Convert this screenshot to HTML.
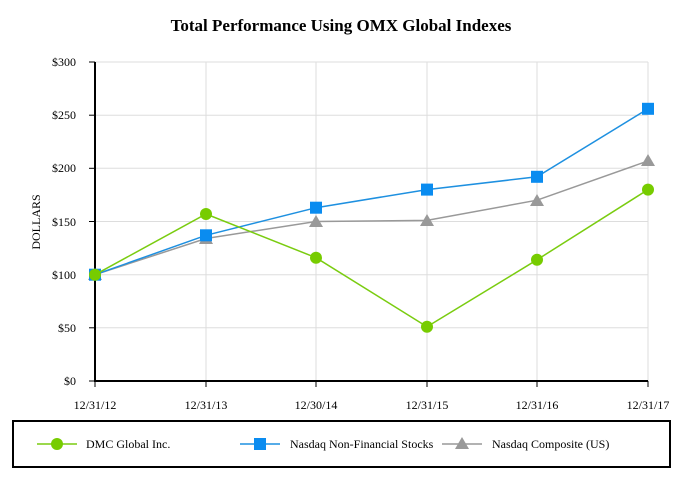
<!DOCTYPE html>
<html><head><meta charset="utf-8"><style>body{margin:0;background:#fff}svg{display:block}text{font-family:"Liberation Serif",serif;fill:#000}</style></head><body>
<svg width="682" height="480" viewBox="0 0 682 480">
<text x="341" y="31" font-size="17" font-weight="bold" text-anchor="middle">Total Performance Using OMX Global Indexes</text>
<g stroke="#ddd" stroke-width="1">
<line x1="95" y1="62" x2="648" y2="62"/><line x1="95" y1="115.2" x2="648" y2="115.2"/><line x1="95" y1="168.3" x2="648" y2="168.3"/><line x1="95" y1="221.5" x2="648" y2="221.5"/><line x1="95" y1="274.7" x2="648" y2="274.7"/><line x1="95" y1="327.8" x2="648" y2="327.8"/>
<line x1="206" y1="62" x2="206" y2="381"/><line x1="316" y1="62" x2="316" y2="381"/><line x1="427" y1="62" x2="427" y2="381"/><line x1="537" y1="62" x2="537" y2="381"/><line x1="648" y1="62" x2="648" y2="381"/>
</g>
<g stroke="#000" stroke-width="2"><line x1="95" y1="62" x2="95" y2="382"/><line x1="94" y1="381" x2="648" y2="381"/></g>
<g stroke="#000" stroke-width="1"><line x1="89" y1="62" x2="95" y2="62"/><line x1="89" y1="115.2" x2="95" y2="115.2"/><line x1="89" y1="168.3" x2="95" y2="168.3"/><line x1="89" y1="221.5" x2="95" y2="221.5"/><line x1="89" y1="274.7" x2="95" y2="274.7"/><line x1="89" y1="327.8" x2="95" y2="327.8"/><line x1="89" y1="381" x2="95" y2="381"/>
<line x1="95" y1="381" x2="95" y2="387"/><line x1="206" y1="381" x2="206" y2="387"/><line x1="316" y1="381" x2="316" y2="387"/><line x1="427" y1="381" x2="427" y2="387"/><line x1="537" y1="381" x2="537" y2="387"/><line x1="648" y1="381" x2="648" y2="387"/></g>
<g font-size="12" text-anchor="end"><text x="76" y="66">$300</text><text x="76" y="119">$250</text><text x="76" y="172">$200</text><text x="76" y="226">$150</text><text x="76" y="279">$100</text><text x="76" y="332">$50</text><text x="76" y="385">$0</text></g>
<g font-size="12" text-anchor="middle"><text x="95" y="409">12/31/12</text><text x="206" y="409">12/31/13</text><text x="316" y="409">12/30/14</text><text x="427" y="409">12/31/15</text><text x="537" y="409">12/31/16</text><text x="648" y="409">12/31/17</text></g>
<text transform="translate(40,222) rotate(-90)" font-size="12" text-anchor="middle">DOLLARS</text>
<polyline fill="none" stroke="#999" stroke-width="1.5" points="95,274.7 206,238.5 316,221.5 427,220.4 537,200.2 648,160.9"/>
<g fill="#999"><path d="M95,268 l7,12 h-14z"/><path d="M206,232 l7,12 h-14z"/><path d="M316,215 l7,12 h-14z"/><path d="M427,214 l7,12 h-14z"/><path d="M537,194 l7,12 h-14z"/><path d="M648,154 l7,12 h-14z"/></g>
<polyline fill="none" stroke="#1e90e0" stroke-width="1.5" points="95,274.7 206,235.3 316,207.7 427,189.6 537,176.8 648,108.8"/>
<g fill="#0a8cf0"><rect x="89" y="268.7" width="12" height="12"/><rect x="200" y="229.3" width="12" height="12"/><rect x="310" y="201.7" width="12" height="12"/><rect x="421" y="183.6" width="12" height="12"/><rect x="531" y="170.8" width="12" height="12"/><rect x="642" y="102.8" width="12" height="12"/></g>
<polyline fill="none" stroke="#7acc10" stroke-width="1.5" points="95,274.7 206,214 316,257.7 427,326.8 537,259.8 648,189.6"/>
<g fill="#77cc00"><circle cx="95" cy="274.7" r="6"/><circle cx="206" cy="214" r="6"/><circle cx="316" cy="257.7" r="6"/><circle cx="427" cy="326.8" r="6"/><circle cx="537" cy="259.8" r="6"/><circle cx="648" cy="189.6" r="6"/></g>
<rect x="13" y="421" width="657" height="46" fill="none" stroke="#000" stroke-width="2"/>
<line x1="37" y1="444" x2="77" y2="444" stroke="#7acc10" stroke-width="1.5"/><circle cx="57" cy="444" r="6" fill="#77cc00"/>
<text x="86" y="448" font-size="12">DMC Global Inc.</text>
<line x1="240" y1="444" x2="280" y2="444" stroke="#1e90e0" stroke-width="1.5"/><rect x="254" y="438" width="12" height="12" fill="#0a8cf0"/>
<text x="290" y="448" font-size="12">Nasdaq Non-Financial Stocks</text>
<line x1="442" y1="444" x2="482" y2="444" stroke="#999" stroke-width="1.5"/><path d="M462,437 l7,12 h-14z" fill="#999"/>
<text x="492" y="448" font-size="12">Nasdaq Composite (US)</text>
</svg>
</body></html>
